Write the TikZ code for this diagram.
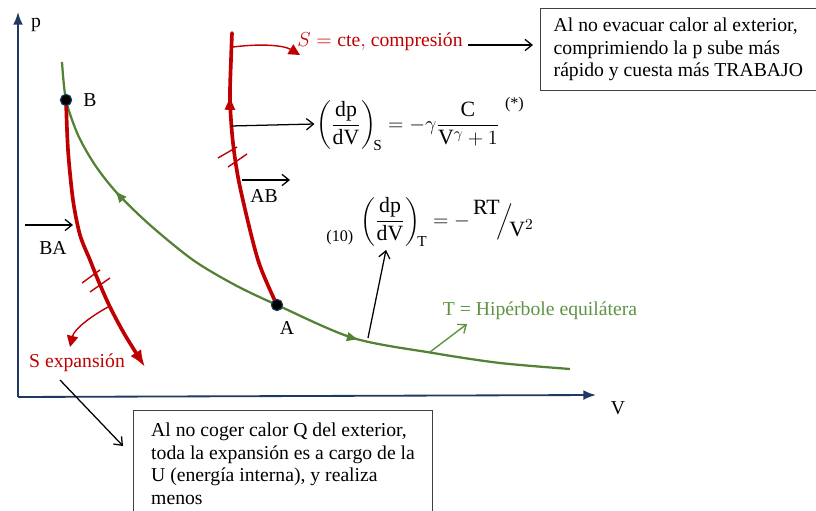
\documentclass[tikz,border=0pt]{standalone}
\usepackage{amsmath}
\usepackage{fontspec}
\setmainfont{Liberation Serif}
\usetikzlibrary{arrows.meta,decorations.markings,positioning}
\definecolor{bleu}{HTML}{1F3864}
\definecolor{rouge}{HTML}{C00000}
\definecolor{vert}{HTML}{538135}
\definecolor{vertclair}{HTML}{5E9441}
\tikzset{
  axis/.style={draw=bleu,line width=1.3pt,-{Latex[length=9pt,width=7pt]}},
  adiab/.style={draw=rouge,line width=2.6pt,line cap=round},
  iso/.style={draw=vert,line width=1.6pt},
  fleche/.style={line width=0.9pt,-{Straight Barb[length=5pt,width=8pt]}},
  trait/.style={draw=rouge,line width=1pt},
  boite/.style={draw=black!75,line width=0.7pt,align=left,inner xsep=0.33cm,anchor=north west},
  etat/.style={circle,fill=black,draw=bleu,line width=0.8pt,inner sep=0pt,minimum size=8pt},
  lbl/.style={inner sep=1pt},
  formule/.style={inner sep=1pt,font=\fontsize{15.5}{18}\selectfont},
}
\newcommand{\petit}[1]{\text{\fontsize{11.5}{13}\selectfont #1}}
\begin{document}
\begin{tikzpicture}[x=0.025cm,y=-0.025cm,font=\fontsize{14}{16}\selectfont]
  \useasboundingbox (0,0) rectangle (816,511);
  %Axes
  \coordinate (O) at (18,397);
  \coordinate (Pmax) at (18,12);
  \coordinate (Vmax) at (596,395);
  \draw[axis] (O)--(Pmax);
  \draw[axis] (O)--(Vmax);
  \node[lbl] (p) at (36,25) {p};
  \node[lbl] (V) at (618,408) {V};
  %Isotherme
  \draw[iso,postaction={decorate},decoration={markings,
      mark=at position 0.22 with {\arrowreversed[vert]{Latex[length=9pt,width=7pt]}},
      mark=at position 0.67 with {\arrow[vert]{Latex[length=9pt,width=7pt]}}}]
    plot[smooth] coordinates {(62,62) (66,100) (78,135) (95,165) (117,193) (150,225) (193,260)
      (235,285) (277,305) (353,338) (433,353) (500,363) (570,369)};
  %Adiabatiques
  \draw[adiab,-{Latex[length=12pt,width=9pt]}]
    plot[smooth] coordinates {(66,100) (68,150) (73,200) (80,235) (90,260) (98,280)
      (110,307) (125,335) (145,367)};
  \draw[adiab,postaction={decorate},decoration={markings,
      mark=at position 0.78 with {\arrow[rouge]{Latex[length=11pt,width=8pt]}}}]
    plot[smooth] coordinates {(277,305) (258,260) (240,187) (233,143) (230,100) (231,60) (232,33)};
  \draw[trait] (218,158)--(237,147);
  \draw[trait] (228,167)--(247,154);
  \draw[trait] (82,283)--(100,270);
  \draw[trait] (90,292)--(110,278);
  %Etats
  \node[etat] (B) at (66,100) {};
  \node[etat] (A) at (277,305) {};
  \node[lbl] (lB) at (90,100) {B};
  \node[lbl] (lA) at (287,328) {A};
  %Sens de parcours
  \coordinate (ab1) at (242,180);
  \coordinate (ab2) at (290,180);
  \draw[fleche] (ab1)--(ab2);
  \node[lbl] (AB) at (264,196) {AB};
  \coordinate (ba1) at (25,225);
  \coordinate (ba2) at (73,225);
  \draw[fleche] (ba1)--(ba2);
  \node[lbl] (BA) at (53,248) {BA};
  %Textes
  \node[lbl,text=rouge] (Scte) at (380,42) {$S=\mathrm{cte},$ compresión};
  \node[lbl,text=rouge] (Sexp) at (77,363) {S expansión};
  \node[lbl,text=vertclair] (TH) at (540,311) {T = Hipérbole equilátera};
  \node[boite,inner ysep=0.12cm,minimum width=6.7cm,minimum height=2.05cm] (Bx1) at (540,8) {Al no evacuar calor al exterior,\\comprimiendo la p sube más\\rápido y cuesta más TRABAJO};
  \node[boite,inner ysep=0.32cm,minimum width=7.475cm] (Bx2) at (133,410) {Al no coger calor Q del exterior,\\toda la expansión es a cargo de la\\U (energía interna), y realiza\\menos};
  \node[formule] (F1) at (420,124) {$\displaystyle\left(\frac{\mathrm{dp}}{\mathrm{dV}}\right)_{\!\mathrm{S}}
      =-\gamma\frac{\mathrm{C}}{\mathrm{V}^{\gamma}+1}\;\raisebox{2.2ex}{\petit{(*)}}$};
  \node[formule] (F2) at (430,222) {$\displaystyle\raisebox{-1.5ex}{\petit{(10)}}\,\left(\frac{\mathrm{dp}}{\mathrm{dV}}\right)_{\!\mathrm{T}}
      =-\,\raisebox{1.2ex}{RT}\!\Big/\!\raisebox{-1ex}{V$^2$}$};
  %Fleches
  \coordinate (s1) at (233,47);
  \coordinate (s2) at (300,55);
  \draw[rouge,line width=1pt,-{Triangle[length=8pt,width=8pt]}] (s1) .. controls (265,43) and (285,46) .. (s2);
  \coordinate (c1) at (468,45);
  \coordinate (c2) at (533,45);
  \draw[fleche] (c1)--(c2);
  \coordinate (k1) at (231,126);
  \draw[fleche] (k1)--(F1.west);
  \coordinate (k2) at (368,338);
  \coordinate (k3) at (386,250);
  \draw[fleche] (k2)--(k3);
  \coordinate (g1) at (430,352);
  \coordinate (g2) at (467,324);
  \draw[vertclair,line width=1pt,-{Straight Barb[length=5pt,width=8pt]}] (g1)--(g2);
  \coordinate (e1) at (108,307);
  \coordinate (e2) at (70,347);
  \draw[rouge,line width=1pt,-{Triangle[length=8pt,width=8pt]}] (e1) .. controls (88,318) and (74,330) .. (e2);
  \coordinate (x1) at (60,380);
  \coordinate (x2) at (123,446);
  \draw[fleche] (x1)--(x2);
\end{tikzpicture}
\end{document}
